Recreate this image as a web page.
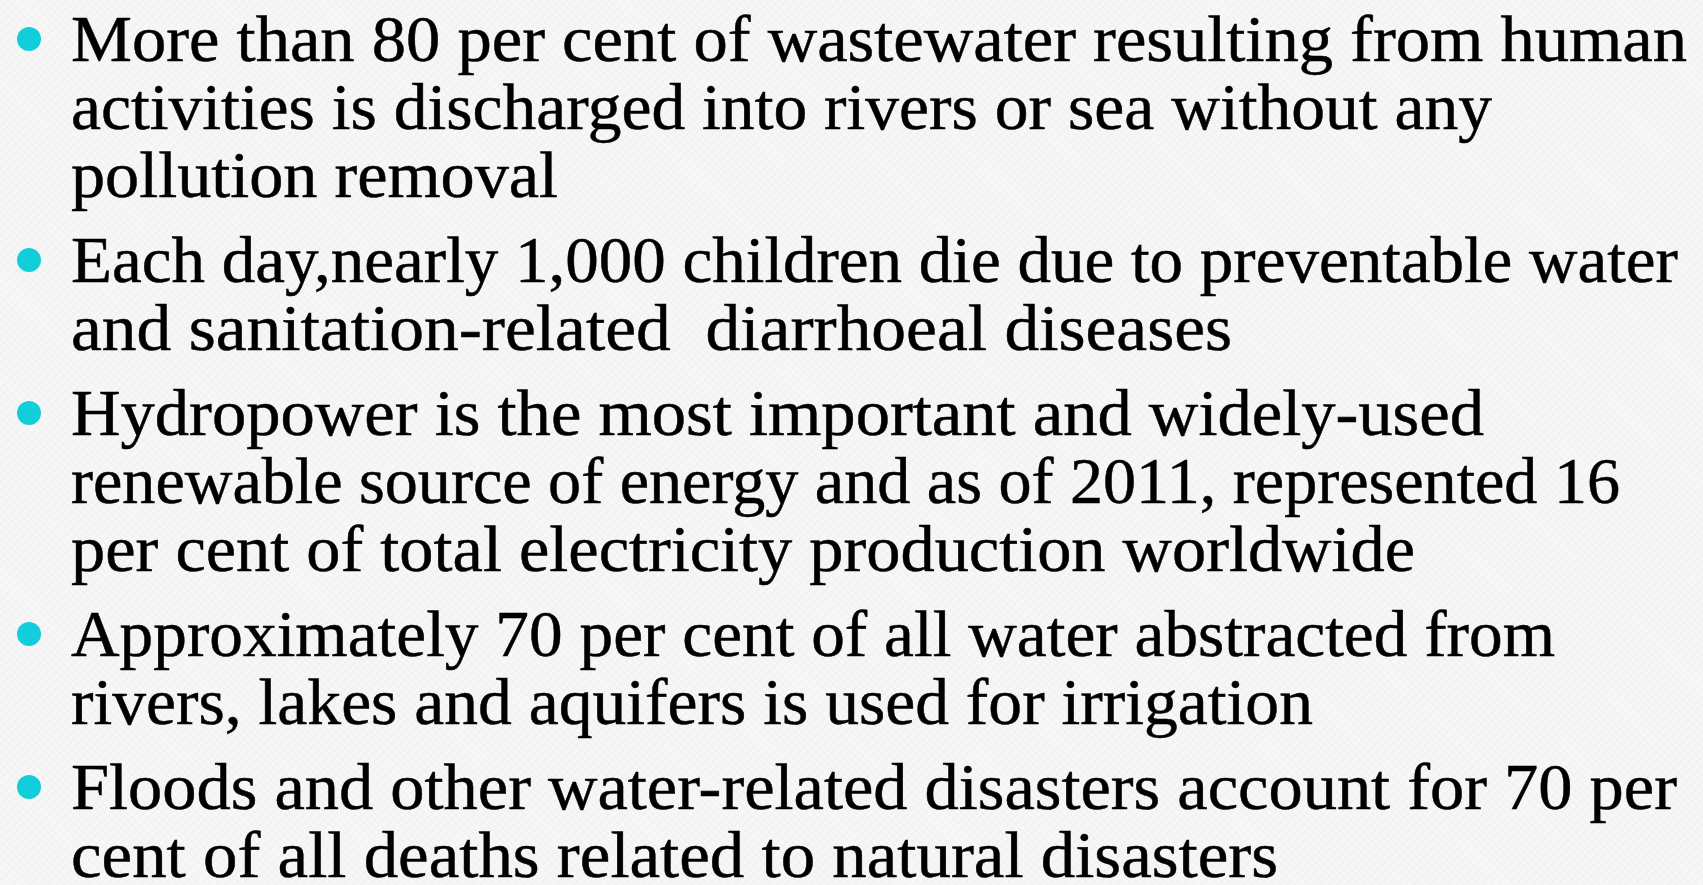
<!DOCTYPE html>
<html>
<head>
<meta charset="utf-8">
<title>Water facts</title>
<script src="https://cdn.jsdelivr.net/npm/chart.js@4.4.1/dist/chart.umd.min.js"></script>
<style>
  html, body { margin: 0; padding: 0; width: 1703px; height: 885px; overflow: hidden; background: #f7f7f7; }
  #slide {
    position: relative; width: 1703px; height: 885px; color: #000;
    font-family: "Liberation Serif", "DejaVu Serif", serif;
    background:
      repeating-linear-gradient(45deg, rgba(0,0,0,0.012) 0 2px, rgba(0,0,0,0) 2px 5px),
      repeating-linear-gradient(-45deg, rgba(0,0,0,0.012) 0 2px, rgba(0,0,0,0) 2px 6px),
      #f7f7f7;
  }
  .line { position: absolute; left: 71px; white-space: pre; line-height: 1; transform-origin: 0 0; -webkit-text-stroke: 0.5px #000; }
  .dot { position: absolute; width: 24px; height: 24px; border-radius: 50%; background: #12cdda; }
</style>
</head>
<body>
<div id="slide"></div>
<script>
// slide text, one array per bullet, one string per rendered line
const bullet1 = ['More than 80 per cent of wastewater resulting from human', 'activities is discharged into rivers or sea without any', 'pollution removal'];
const bullet2 = ['Each day,nearly 1,000 children die due to preventable water', 'and sanitation-related  diarrhoeal diseases'];
const bullet3 = ['Hydropower is the most important and widely-used', 'renewable source of energy and as of 2011, represented 16', 'per cent of total electricity production worldwide'];
const bullet4 = ['Approximately 70 per cent of all water abstracted from', 'rivers, lakes and aquifers is used for irrigation'];
const bullet5 = ['Floods and other water-related disasters account for 70 per', 'cent of all deaths related to natural disasters'];
const bullets = [bullet1, bullet2, bullet3, bullet4, bullet5];

// right edge of each line in the reference (px), same order as above
const lineEnds = [1687, 1492, 558, 1678, 1232, 1484, 1620, 1415, 1555, 1313, 1677, 1278];

(function () {
  'use strict';
  const slide = document.getElementById('slide');
  const fontSize = 66, pitch = 68, paraGap = 17, textLeft = 71;
  let baseline = 61, k = 0;

  // where the baseline sits inside a line box
  const probe = document.createElement('div');
  probe.className = 'line';
  probe.style.fontSize = fontSize + 'px';
  probe.innerHTML = 'Hx<span style="display:inline-block;width:1px;height:0;vertical-align:baseline"></span>';
  slide.appendChild(probe);
  const baseOff = probe.lastChild.getBoundingClientRect().top - probe.getBoundingClientRect().top;
  slide.removeChild(probe);

  bullets.forEach((lines, bi) => {
    if (bi > 0) baseline += paraGap;
    const dot = document.createElement('div');
    dot.className = 'dot';
    dot.style.left = (29 - 12) + 'px';
    dot.style.top = (baseline - 22 - 12) + 'px';
    slide.appendChild(dot);
    lines.forEach((txt) => {
      const el = document.createElement('div');
      el.className = 'line';
      el.style.fontSize = fontSize + 'px';
      el.style.top = (baseline - baseOff) + 'px';
      el.textContent = txt;
      slide.appendChild(el);
      const w = el.getBoundingClientRect().width;
      const target = lineEnds[k] - textLeft;
      if (w > 0) el.style.transform = 'scaleX(' + (target / w).toFixed(4) + ')';
      baseline += pitch;
      k++;
    });
  });
})();
</script>
</body>
</html>
